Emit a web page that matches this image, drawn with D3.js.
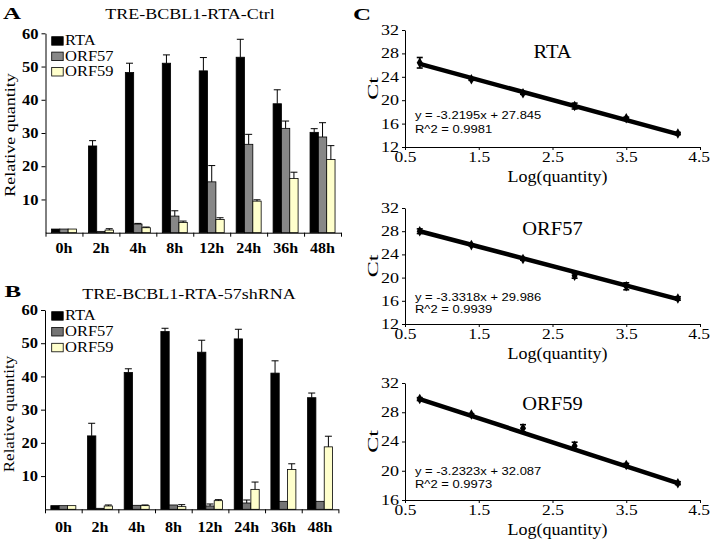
<!DOCTYPE html>
<html><head><meta charset="utf-8">
<script src="https://cdn.jsdelivr.net/npm/d3@7"></script>
<style>body{margin:0;background:#fff} svg{display:block}</style>
</head><body>
<svg id="c" width="710" height="540"></svg>
<script>
// ---------- data: panels A & B (relative quantity) ----------
const times = ["0h","2h","4h","8h","12h","24h","36h","48h"];
const seriesNames = ["RTA","ORF57","ORF59"];
const yTicksBar = [10,20,30,40,50,60];

const ctrlRTA      = [1.1, 26.1, 48.2, 51.0, 48.7, 52.8, 38.8, 30.2];
const ctrlRTAerr   = [0,   1.6,  2.8,  2.5,  4.0,  5.4,  4.2,  1.1];
const ctrlORF57    = [1.1, 0.4,  2.6,  5.0, 15.3, 26.6, 31.4, 28.8];
const ctrlORF57err = [0,   0,    0.2,  1.6,  4.9,  3.0,  2.2,  4.3];
const ctrlORF59    = [1.1, 0.8,  1.5,  3.1,  4.0,  9.5, 16.3, 22.0];
const ctrlORF59err = [0,   0.4,  0.2,  0.4,  0.5,  0.4,  1.9,  4.2];

const shRTA      = [1.1, 22.1, 41.2, 53.5, 47.3, 51.3, 41.0, 33.6];
const shRTAerr   = [0,   3.8,  1.1,  1.0,  3.6,  2.9,  3.7,  1.4];
const shORF57    = [1.1, 0.3,  1.2,  1.3,  1.0,  1.9,  2.4,  2.4];
const shORF57err = [0,   0,    0,    0,    0.6,  0.9,  0,    0];
const shORF59    = [1.1, 1.0,  1.1,  0.8,  2.6,  6.0, 12.0, 18.8];
const shORF59err = [0,   0.3,  0.2,  0.6,  0.3,  2.2,  1.7,  3.2];

// ---------- data: panel C (standard curves) ----------
const logQty = [0.7, 1.4, 2.1, 2.8, 3.5, 4.2];
const xTicksC = [0.5, 1.5, 2.5, 3.5, 4.5];
const ctTicks12 = [12,16,20,24,28,32];
const ctTicks16 = [16,20,24,28,32];

const ctRTA      = [26.4, 23.6, 21.2, 19.0, 16.9, 14.3];
const ctRTAerr   = [0.9, 0.2, 0.2, 0.5, 0.2, 0.2];
const ctORF57    = [28.0, 25.6, 23.2, 20.3, 18.5, 16.4];
const ctORF57err = [0.4, 0.1, 0.2, 0.4, 0.6, 0.3];
const ctORF59    = [29.8, 27.7, 25.8, 23.4, 20.8, 18.3];
const ctORF59err = [0.2, 0.1, 0.5, 0.5, 0.2, 0.2];
// trendline Ct at first and last log quantity (as drawn)
const fitRTA   = [26.2, 14.2];
const fitORF57 = [28.0, 16.3];
const fitORF59 = [29.8, 18.3];
const eqRTA   = ["y = -3.2195x + 27.845", "R^2 = 0.9981"];
const eqORF57 = ["y = -3.3318x + 29.986", "R^2 = 0.9939"];
const eqORF59 = ["y = -3.2323x + 32.087", "R^2 = 0.9973"];

// ---------- drawing ----------
const SERIF = "'Liberation Serif','Times New Roman',serif";
const SANS = "'Liberation Sans',Arial,sans-serif";
const svg = d3.select("#c");

function label(g, x, y, s, o) {
  return g.append("text")
    .attr("transform", `translate(${x},${y})` + (o.rot ? ` rotate(${o.rot})` : "") + ` scale(1,${o.k || 1})`)
    .attr("font-family", o.ff || SERIF)
    .attr("font-size", o.fs)
    .attr("font-weight", o.fw || "normal")
    .attr("text-anchor", o.anchor || "start")
    .attr("fill", "#000")
    .text(s);
}

function barPanel(c) {
  const g = svg.append("g");
  const x = d3.scaleBand().domain(times).range(c.xr);
  const y = d3.scaleLinear().domain([0, 60]).range(c.yr);
  const gw = 25;
  const xs = d3.scaleBand().domain(seriesNames).range([0, gw]);
  const off = (x.bandwidth() - gw) / 2;
  const bw = xs.bandwidth();

  c.vals.forEach((vals, si) => {
    const errs = c.errs[si];
    const bx = i => x(times[i]) + off + xs(seriesNames[si]);
    g.append("g").selectAll("rect").data(vals).join("rect")
      .attr("x", (d, i) => bx(i)).attr("y", d => y(d))
      .attr("width", bw).attr("height", d => y(0) - y(d))
      .attr("fill", c.fills[si]).attr("stroke", "#000").attr("stroke-width", 0.8);
    const eb = g.append("g").attr("stroke", "#000").attr("stroke-width", 1)
      .selectAll("g").data(vals.map((v, i) => ({ v, e: errs[i], i })).filter(d => d.e > 0)).join("g");
    eb.append("line")
      .attr("x1", d => bx(d.i) + bw / 2).attr("x2", d => bx(d.i) + bw / 2)
      .attr("y1", d => y(d.v)).attr("y2", d => y(d.v + d.e));
    eb.append("line")
      .attr("x1", d => bx(d.i) + bw / 2 - 3.5).attr("x2", d => bx(d.i) + bw / 2 + 3.5)
      .attr("y1", d => y(d.v + d.e)).attr("y2", d => y(d.v + d.e));
  });

  // y axis
  const ya = g.append("g").attr("transform", `translate(${c.xr[0]},0)`)
    .call(d3.axisLeft(y).tickValues(yTicksBar).tickSize(4).tickSizeOuter(0).tickPadding(3));
  ya.selectAll("path,line").attr("stroke", "#000");
  ya.selectAll("text").attr("font-family", SERIF).attr("font-size", 16.5).attr("font-weight", "bold")
    .attr("fill", "#000").attr("transform", "scale(1,0.9)");

  // x axis with labels at band centers
  const xa = g.append("g").attr("transform", `translate(0,${c.yr[0]})`)
    .call(d3.axisBottom(x).tickSize(0).tickSizeOuter(0));
  xa.select("path").attr("stroke", "#000");
  xa.selectAll("text").attr("font-family", SERIF).attr("font-size", 16).attr("font-weight", "bold")
    .attr("fill", "#000").attr("dy", null).attr("y", c.xlab / 0.92).attr("transform", "scale(1,0.92)");
  // tick marks at group boundaries
  const xb = d3.scaleLinear().domain([0, times.length]).range(c.xr);
  const xt = g.append("g").attr("transform", `translate(0,${c.yr[0]})`)
    .call(d3.axisBottom(xb).tickValues(d3.range(0, times.length + 1)).tickFormat("").tickSize(4).tickSizeOuter(0));
  xt.select("path").remove();
  xt.selectAll("line").attr("stroke", "#000");

  // legend
  const lg = g.append("g");
  seriesNames.forEach((s, si) => {
    const top = c.legTop + si * c.legStep;
    lg.append("rect").attr("x", 51.7).attr("y", top).attr("width", 11.5).attr("height", 8.5)
      .attr("fill", c.fills[si]).attr("stroke", "#000").attr("stroke-width", 0.8);
    label(lg, 65, top + 8.7, s, { fs: 16.5, k: 0.9 });
  });

  // titles
  label(g, c.letterX, c.letterY, c.letter, { fs: 25, fw: "bold", k: 0.7 });
  label(g, c.titleX, c.titleY, c.title, { fs: 18, k: 0.85, anchor: "middle" });
  label(g, c.ylabX, c.ylabY, "Relative quantity", { fs: c.ylabFs, k: 0.8, rot: -90, anchor: "middle" });
}

barPanel({
  xr: [45.5, 341], yr: [232.7, 33.3], xlab: 20.5,
  vals: [ctrlRTA, ctrlORF57, ctrlORF59], errs: [ctrlRTAerr, ctrlORF57err, ctrlORF59err],
  fills: ["#000000", "#878787", "#ffffcc"],
  legTop: 36.7, legStep: 15.4,
  letter: "A", letterX: 3, letterY: 18.5,
  title: "TRE-BCBL1-RTA-Ctrl", titleX: 190, titleY: 19.3,
  ylabX: 15, ylabY: 135, ylabFs: 18
});
barPanel({
  xr: [45, 338.4], yr: [509.3, 310], xlab: 22.5,
  vals: [shRTA, shORF57, shORF59], errs: [shRTAerr, shORF57err, shORF59err],
  fills: ["#000000", "#747474", "#ffffcc"],
  legTop: 311.7, legStep: 15.8,
  letter: "B", letterX: 4.5, letterY: 297,
  title: "TRE-BCBL1-RTA-57shRNA", titleX: 189, titleY: 299.3,
  ylabX: 14, ylabY: 414, ylabFs: 17
});

function curvePanel(c) {
  const g = svg.append("g");
  const x = d3.scaleLinear().domain([0.5, 4.5]).range([405, 700]);
  const y = d3.scaleLinear().domain(c.ydom).range(c.yr);
  const k = 0.78;

  const ya = g.append("g").attr("transform", "translate(405,0)")
    .call(d3.axisLeft(y).tickValues(c.ticks).tickSize(3).tickSizeOuter(0).tickPadding(3));
  ya.selectAll("path,line").attr("stroke", "#000");
  ya.selectAll("text").attr("font-family", SERIF).attr("font-size", 18).attr("fill", "#000")
    .attr("transform", `scale(1,${k})`);

  const xa = g.append("g").attr("transform", `translate(0,${c.yr[0]})`)
    .call(d3.axisBottom(x).tickValues(xTicksC).tickFormat(d3.format(".1f")).tickSize(3).tickSizeOuter(0));
  xa.selectAll("path,line").attr("stroke", "#000");
  xa.selectAll("text").attr("font-family", SERIF).attr("font-size", 17.5).attr("fill", "#000")
    .attr("dy", null).attr("y", 15 / k).attr("transform", `scale(1,${k})`);
  // keep the last label inside the picture edge
  xa.selectAll("text").filter(d => d === xTicksC[xTicksC.length - 1])
    .attr("text-anchor", "end").attr("x", 9.5);

  // trendline
  const line = d3.line().x(d => x(d[0])).y(d => y(d[1]));
  g.append("path")
    .attr("d", line([[logQty[0], c.fit[0]], [logQty[logQty.length - 1], c.fit[1]]]))
    .attr("stroke", "#000").attr("stroke-width", 4.5).attr("fill", "none");

  // error bars
  const pts = c.vals.map((v, i) => ({ x: logQty[i], v, e: c.errs[i] }));
  const eb = g.append("g").attr("stroke", "#000").attr("stroke-width", 1.6).selectAll("g").data(pts).join("g");
  eb.append("line").attr("x1", d => x(d.x)).attr("x2", d => x(d.x)).attr("y1", d => y(d.v - d.e)).attr("y2", d => y(d.v + d.e));
  eb.append("line").attr("x1", d => x(d.x) - 3).attr("x2", d => x(d.x) + 3).attr("y1", d => y(d.v + d.e)).attr("y2", d => y(d.v + d.e));
  eb.append("line").attr("x1", d => x(d.x) - 3).attr("x2", d => x(d.x) + 3).attr("y1", d => y(d.v - d.e)).attr("y2", d => y(d.v - d.e));

  // markers
  g.append("g").selectAll("path").data(pts).join("path")
    .attr("d", d3.symbol(d3.symbolDiamond, 32))
    .attr("transform", d => `translate(${x(d.x)},${y(d.v)})`)
    .attr("fill", "#000");

  label(g, 552.5, c.titleY, c.title, { fs: 20.5, k: 0.88, anchor: "middle" });
  label(g, 415, c.eqY[0], c.eq[0], { fs: 13, k: k, ff: SANS });
  label(g, 415, c.eqY[1], c.eq[1], { fs: 13, k: k, ff: SANS });
  label(g, 557.5, c.yr[0] + 34.5, "Log(quantity)", { fs: 18, k: 0.95, anchor: "middle" });
  label(g, 378, (c.yr[0] + c.yr[1]) / 2, "Ct", { fs: 24, k: 0.65, rot: -90, anchor: "middle" });
}

curvePanel({ ydom: [12, 32], yr: [147, 30], ticks: ctTicks12, title: "RTA", titleY: 58.3,
  vals: ctRTA, errs: ctRTAerr, fit: fitRTA, eq: eqRTA, eqY: [119.3, 132.7] });
curvePanel({ ydom: [12, 32], yr: [324, 208], ticks: ctTicks12, title: "ORF57", titleY: 235,
  vals: ctORF57, errs: ctORF57err, fit: fitORF57, eq: eqORF57, eqY: [300.7, 312.7] });
curvePanel({ ydom: [16, 32], yr: [500, 383], ticks: ctTicks16, title: "ORF59", titleY: 410,
  vals: ctORF59, errs: ctORF59err, fit: fitORF59, eq: eqORF59, eqY: [475, 488.3] });

label(svg, 353, 20, "C", { fs: 25, fw: "bold", k: 0.7 });
</script>
</body></html>
